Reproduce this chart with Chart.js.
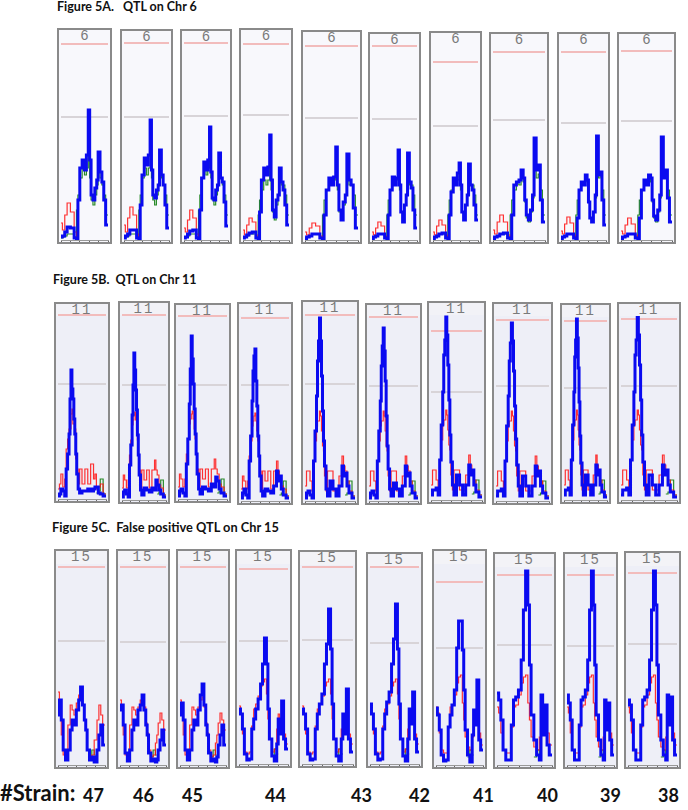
<!DOCTYPE html>
<html><head><meta charset="utf-8">
<script src="https://cdn.jsdelivr.net/npm/chart.js@4.4.1/dist/chart.umd.min.js"></script>
<style>
body{margin:0;background:#fff;width:688px;height:810px;position:relative;overflow:hidden;font-family:Lato,'Open Sans',sans-serif}
.title{position:absolute;font-weight:bold;color:#111;white-space:pre;line-height:1}
.panel{position:absolute;box-sizing:border-box;border:2px solid #8a8a8a;}
.panel canvas{position:absolute;left:0;top:0;}
.hdr{position:absolute;left:0;right:0;top:0;text-align:center;font-family:'Liberation Mono','DejaVu Sans Mono',monospace;color:#7a7a7a;font-size:14px;line-height:13px;}
.lab{position:absolute;font-weight:bold;color:#111;white-space:pre;line-height:1}
</style></head><body>
<script>
// ---------- text ----------
const figTitles = ['Figure 5A.   QTL on Chr 6', 'Figure 5B.  QTL on Chr 11', 'Figure 5C.  False positive QTL on Chr 15'];
const chrLabels = ['6', '11', '15'];
const strainLabel = '#Strain:';
const strainCounts = [47, 46, 45, 44, 43, 42, 41, 40, 39, 38];

// ---------- Row A: Chr 6 (marker position in % of chromosome, LRS in plot units) ----------
const xsA = [0,3,8,13,20,28,33,36,40,45,50,54,58,61,64,68,72,76,79,83,87,91,95,100];
const blueA1 = [3,4,8,13,12,2,0,40,72,80,70,85,130,80,45,40,52,60,88,68,58,40,15,15];
const blueA2 = [2,4,6,10,10,2,0,35,65,82,75,85,120,70,45,42,50,55,90,65,55,35,12,12];
const blueA3 = [2,3,6,9,10,2,0,30,62,78,70,80,113,68,42,40,50,55,87,62,58,38,14,14];
const blueA4 = [2,3,5,7,8,2,0,28,60,72,65,73,105,60,30,23,40,45,72,58,50,35,15,15];
const blueA5 = [1,3,4,6,6,2,0,25,50,62,55,63,93,55,30,20,38,45,86,60,55,32,12,12];
const blueA6 = [1,3,4,6,6,2,0,25,50,63,55,62,90,55,28,18,35,45,87,58,52,30,12,12];
const blueA7 = [1,3,4,6,7,2,0,25,48,62,55,67,77,55,28,20,35,45,76,55,50,35,20,20];
const blueA8 = [1,3,4,6,7,2,0,25,55,58,60,70,62,40,25,20,30,45,102,70,75,40,18,18];
const blueA9 = [1,3,4,6,6,2,0,22,50,58,55,65,60,38,22,18,28,45,104,65,68,40,15,15];
const blueA10 = [1,3,4,6,6,2,0,22,50,60,55,65,62,40,24,20,30,45,103,62,70,42,18,18];
const redA1 = [17,10,25,37,28,8,2,40,72,80,70,85,130,80,45,40,52,60,88,68,58,40,15,15];
const redA2 = [15,8,22,33,25,6,2,35,65,82,75,85,120,70,45,42,50,55,90,65,55,35,12,12];
const redA3 = [12,8,20,30,22,6,2,30,62,78,70,80,113,68,42,40,50,55,87,62,58,38,14,14];
const redA4 = [10,5,15,22,18,5,2,28,60,72,65,73,105,60,30,23,40,45,72,58,50,35,15,15];
const redA5 = [8,5,12,17,14,4,2,25,50,62,55,63,93,55,30,20,38,45,86,60,55,32,12,12];
const redA6 = [8,5,12,18,14,4,2,25,50,63,55,62,90,55,28,18,35,45,87,58,52,30,12,12];
const redA7 = [8,5,14,20,15,5,2,25,48,62,55,67,77,55,28,20,35,45,76,55,50,35,20,20];
const redA8 = [10,6,18,25,18,5,2,25,55,58,60,70,62,40,25,20,30,45,102,70,75,40,18,18];
const redA9 = [9,6,16,23,17,5,2,22,50,58,55,65,60,38,22,18,28,45,104,65,68,40,15,15];
const redA10 = [9,6,15,22,16,5,2,22,50,60,55,65,62,40,24,20,30,45,103,62,70,42,18,18];
const greenA1 = [2,3,4,6,6,3,30,45,62,72,65,72,95,62,40,35,45,55,75,62,55,45,25,25];
const greenA2 = [2,3,4,6,6,3,25,40,50,60,55,60,72,50,28,20,35,45,70,55,55,45,25,25];
const greenA3 = [2,3,4,6,6,3,25,40,50,56,55,62,58,38,22,18,28,42,88,62,66,50,25,25];
const pinkA = [196,197,197,196,194,194,178,188,188,189];
const grayA = [123,123,124,125,122,121,114,120,117,119];

// ---------- Row B: Chr 11 ----------
const xsB = [0,3,6,10,14,17,20,23,25,27,29,31,33,35,37,39,42,45,50,56,62,68,74,77,80,84,88,94,100];
const blueB1 = [3,5,10,8,3,30,45,65,100,129,110,100,80,65,45,25,10,6,8,8,10,8,10,12,12,6,5,3,3];
const blueB2 = [3,8,10,6,3,35,55,85,115,147,130,110,90,65,45,25,10,5,12,10,8,12,10,20,15,10,6,3,3];
const blueB3 = [3,8,10,6,3,35,60,95,130,163,140,115,90,65,45,25,10,5,12,10,8,15,12,22,18,10,6,3,3];
const blueB4 = [3,8,12,6,3,40,65,100,130,145,152,120,95,65,45,25,10,5,12,10,8,15,30,20,25,12,6,3,3];
const blueB5 = [3,8,10,6,3,40,70,105,140,160,183,160,125,90,60,35,12,5,20,12,5,15,35,25,28,15,8,3,3];
const blueB6 = [3,8,10,6,3,40,70,100,135,155,173,150,120,85,55,32,12,5,18,12,5,15,35,25,28,15,8,3,3];
const blueB7 = [5,10,10,12,5,40,75,108,145,160,183,165,135,100,65,38,15,5,25,15,5,15,35,25,30,15,8,3,3];
const blueB8 = [5,10,10,12,5,40,75,105,140,158,178,160,130,95,62,36,15,5,25,15,5,15,35,25,30,15,8,3,3];
const blueB9 = [5,10,10,12,5,40,75,108,143,160,181,162,132,98,64,37,15,5,25,15,5,15,35,25,30,15,8,3,3];
const blueB10 = [5,10,10,12,5,40,75,108,145,160,183,165,135,100,65,38,15,5,25,15,5,15,35,25,30,15,8,3,3];
const redB1 = [10,15,25,12,20,50,60,70,70,85,90,75,75,70,40,30,15,30,15,30,15,35,20,25,10,12,15,5,5];
const redB2 = [12,25,20,12,20,45,60,75,80,85,88,80,70,60,45,30,12,30,20,30,12,30,40,30,25,15,12,5,5];
const redB3 = [15,30,30,20,10,40,60,75,80,80,90,85,70,55,50,25,10,30,30,10,10,25,45,35,30,20,10,5,5];
const greenB = [null,null,null,null,null,null,null,null,null,null,null,null,null,null,null,null,null,null,null,null,null,null,null,null,6,8,20,5,5];
const pinkB = [184,185,183,183,186,184,169,181,179,181];
const grayB = [115,115,114,116,117,115,108,115,112,114];

// ---------- Row C: Chr 15 ----------
const xsC = [0,3,7,11,16,21,26,30,34,39,44,48,52,56,59,62,67,72,77,80,83,87,91,95,100];
const blueC1 = [50,65,45,15,5,15,35,45,40,55,65,78,60,45,35,15,5,8,3,3,15,30,40,20,20];
const blueC2 = [55,60,40,12,4,15,35,45,40,55,60,70,55,40,30,12,4,6,3,5,15,25,35,20,20];
const blueC3 = [50,62,45,15,5,15,35,45,40,55,70,81,60,40,30,12,4,6,3,8,20,30,40,20,20];
const blueC4 = [55,50,35,10,4,5,35,45,55,65,80,100,126,100,55,25,8,3,20,45,30,63,25,15,15];
const blueC5 = [55,50,35,10,4,5,35,50,60,70,100,120,155,115,60,25,8,3,25,50,30,75,25,12,12];
const blueC6 = [60,50,35,10,4,5,35,50,62,72,100,125,160,115,60,25,8,3,25,55,40,72,25,12,12];
const blueC7 = [57,50,35,10,4,5,38,50,60,75,117,144,144,115,75,35,10,3,30,55,40,85,25,15,15];
const blueC8 = [72,65,45,15,5,5,40,65,68,75,105,155,194,160,100,50,25,10,5,70,30,60,20,10,10];
const blueC9 = [70,62,45,15,5,5,40,65,68,75,105,155,194,160,100,50,25,10,5,65,35,62,25,10,10];
const blueC10 = [65,60,45,15,5,5,40,65,68,75,105,155,194,160,100,50,25,10,5,70,40,68,25,10,10];
const redC1 = [73,60,30,10,10,40,60,55,50,62,70,70,60,45,35,15,8,10,25,25,45,60,50,40,40];
const redC2 = [65,58,30,10,8,40,58,55,50,58,65,68,58,42,32,15,8,10,22,30,42,52,45,35,35];
const redC3 = [58,50,30,12,10,12,38,55,60,68,78,82,85,70,45,25,12,15,35,50,40,55,30,20,20];
const redC4 = [58,52,32,15,12,12,38,58,60,70,82,88,90,62,45,28,18,15,28,55,45,60,32,20,20];
const greenC = [null,null,null,null,null,null,null,null,null,null,null,null,null,null,null,null,8,15,10,10,null,null,null,null,null];
const pinkC = [198,198,198,195,197,197,183,190,190,192];
const grayC = [124,123,123,123,124,121,117,120,119,121];

// ---------- assemble rows ----------
const rows = [
  {xs: xsA, blue: [blueA1,blueA2,blueA3,blueA4,blueA5,blueA6,blueA7,blueA8,blueA9,blueA10],
   red: [redA1,redA2,redA3,redA4,redA5,redA6,redA7,redA8,redA9,redA10],
   green: [greenA1,greenA1,greenA1,greenA2,greenA2,greenA2,greenA2,greenA3,greenA3,greenA3],
   pink: pinkA, gray: grayA},
  {xs: xsB, blue: [blueB1,blueB2,blueB3,blueB4,blueB5,blueB6,blueB7,blueB8,blueB9,blueB10],
   red: [redB1,redB2,redB2,redB2,redB3,redB3,redB3,redB3,redB3,redB3],
   green: [greenB,greenB,greenB,greenB,greenB,greenB,greenB,greenB,greenB,greenB],
   pink: pinkB, gray: grayB},
  {xs: xsC, blue: [blueC1,blueC2,blueC3,blueC4,blueC5,blueC6,blueC7,blueC8,blueC9,blueC10],
   red: [redC1,redC2,redC2,redC3,redC3,redC3,redC4,redC4,redC4,redC4],
   green: [greenC,greenC,greenC,greenC,greenC,greenC,greenC,greenC,greenC,greenC],
   pink: pinkC, gray: grayC}
];

// ---------- layout (pixel geometry only) ----------
const boxes = [
  [[57,28,55,216],[120,29,53,215],[180,29,52,215],[239,28,54,216],[301,30,61,214],[368,32,53,212],[429,31,53,213],[489,32,60,212],[557,32,53,212],[617,32,59,212]],
  [[54,302,56,201],[118,301,52,203],[174,303,57,200],[237,302,56,203],[301,300,58,205],[365,303,57,202],[427,301,59,203],[492,302,61,203],[560,303,51,201],[617,302,64,202]],
  [[54,549,55,220],[116,549,54,220],[176,549,54,220],[235,549,57,219],[298,550,59,218],[366,552,57,216],[432,549,55,220],[493,552,63,217],[563,552,55,217],[624,551,57,218]]
];
const headerH = [13, 12, 13];
const bgCol = ['#f8f8fc', '#eeeff7', '#eeeff7'];
const hdrBg = ['#f8f8fc', '#f2f2f7', '#f3f3f7'];
const titlePos = [[57,1,12.5],[53,274,12.5],[52,521,12.8]];
const strainX = [93,143,192,275,361,419,483,547,610,668];

Chart.defaults.font.family = 'Lato, sans-serif';

figTitles.forEach((t, r) => {
  const d = document.createElement('div');
  d.className = 'title'; d.textContent = t;
  d.style.left = titlePos[r][0] + 'px'; d.style.top = titlePos[r][1] + 'px';
  d.style.fontSize = titlePos[r][2] + 'px';
  document.body.appendChild(d);
});

const sl = document.createElement('div');
sl.className = 'lab'; sl.textContent = strainLabel;
sl.style.left = '0px'; sl.style.top = '782px'; sl.style.fontSize = '22px';
document.body.appendChild(sl);
strainCounts.forEach((n, i) => {
  const d = document.createElement('div');
  d.className = 'lab'; d.textContent = String(n);
  d.style.fontSize = '18px'; d.style.top = '786px';
  d.style.left = (strainX[i] - 10) + 'px'; d.style.width = '20px'; d.style.textAlign = 'center';
  document.body.appendChild(d);
});

function pts(xs, arr) { return xs.map((x, k) => ({x: x, y: arr[k]})); }

rows.forEach((row, r) => {
  boxes[r].forEach((b, i) => {
    const [l, t, w, h] = b;
    const div = document.createElement('div');
    div.className = 'panel';
    div.style.left = l + 'px'; div.style.top = t + 'px';
    div.style.width = w + 'px'; div.style.height = h + 'px';
    div.style.background = bgCol[r];
    const iw = w - 4, ih = h - 4;
    const hd = document.createElement('div');
    hd.className = 'hdr'; hd.textContent = chrLabels[r];
    hd.style.height = headerH[r] + 'px';
    hd.style.background = hdrBg[r];
    hd.style.letterSpacing = chrLabels[r].length > 1 ? '2px' : '0px';
    div.appendChild(hd);
    const cv = document.createElement('canvas');
    cv.width = iw; cv.height = ih;
    cv.style.width = iw + 'px'; cv.style.height = ih + 'px';
    div.appendChild(cv);
    document.body.appendChild(div);
    const xs = row.xs;
    const ch = new Chart(cv, {
      type: 'line',
      data: { datasets: [
        {data: pts(xs, row.blue[i]), stepped: true, borderColor: '#0a0af0', borderWidth: 3},
        {data: pts(xs, row.red[i]), stepped: true, borderColor: 'rgba(255,15,15,0.85)', borderWidth: 1.2},
        {data: pts(xs, row.green[i]), stepped: true, borderColor: '#2a8a2a', borderWidth: 1.2, spanGaps: false},
        {data: [{x:0, y: row.gray[i]}, {x:100, y: row.gray[i]}], borderColor: '#d8d4d8', borderWidth: 2, clip: false},
        {data: [{x:0, y: row.pink[i]}, {x:100, y: row.pink[i]}], borderColor: '#f2bcbc', borderWidth: 2, clip: false}
      ]},
      options: {
        responsive: false, animation: false, devicePixelRatio: 1, events: [],
        layout: {padding: {top: headerH[r], left: 2, right: 2, bottom: 0}},
        plugins: {legend: {display: false}, tooltip: {enabled: false}, title: {display: false}},
        elements: {point: {radius: 0}, line: {tension: 0, borderJoinStyle: 'miter'}},
        scales: {
          x: {type: 'linear', min: 0, max: 100,
              ticks: {display: false, stepSize: 20},
              grid: {drawOnChartArea: false, drawTicks: true, tickLength: 2, color: '#666'},
              border: {color: '#999', width: 1}},
          y: {display: false, min: 0, max: 200}
        }
      }
    });
    ch.options.scales.y.max = ch.chartArea.bottom - ch.chartArea.top;
    ch.update('none');
  });
});
</script>
</body></html>
